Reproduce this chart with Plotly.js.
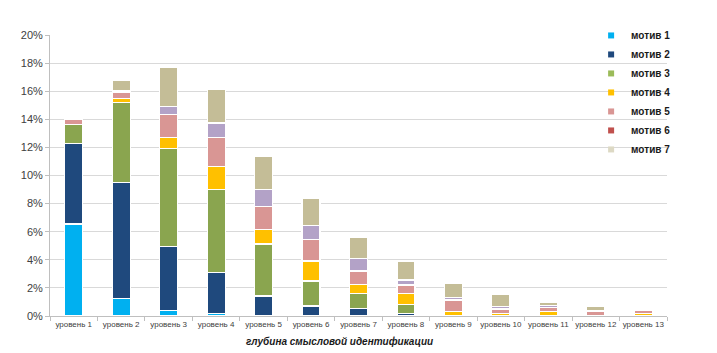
<!DOCTYPE html>
<html>
<head>
<meta charset="utf-8">
<script src="https://cdn.plot.ly/plotly-3.0.1.min.js"></script>
<style>html,body{margin:0;padding:0;background:#fff;}#chart{width:717px;height:353px;}</style>
</head>
<body>
<div id="chart"></div>
<script>
const categories = ["уровень 1","уровень 2","уровень 3","уровень 4","уровень 5","уровень 6","уровень 7","уровень 8","уровень 9","уровень 10","уровень 11","уровень 12","уровень 13"];
const seriesNames = ["мотив 1","мотив 2","мотив 3","мотив 4","мотив 5","мотив 6","мотив 7"];
// values in percent
const motiv1 = [6.55, 1.26, 0.38, 0.20, 0, 0, 0, 0, 0, 0, 0, 0, 0];
const motiv2 = [5.70, 8.24, 4.55, 2.90, 1.42, 0.71, 0.55, 0.19, 0, 0, 0, 0, 0];
const motiv3 = [1.37, 5.71, 6.99, 5.90, 3.70, 1.78, 1.06, 0.64, 0, 0, 0, 0, 0];
const motiv4 = [0, 0.28, 0.78, 1.66, 1.04, 1.42, 0.64, 0.78, 0.31, 0.19, 0.31, 0.05, 0.15];
const motiv5 = [0.38, 0.45, 1.63, 2.04, 1.66, 1.54, 0.95, 0.59, 0.83, 0.31, 0.28, 0.31, 0.23];
const motiv6 = [0, 0.10, 0.60, 1.04, 1.18, 1.02, 0.90, 0.36, 0.19, 0.16, 0.17, 0, 0];
const motiv7 = [0, 0.73, 2.79, 2.42, 2.35, 1.92, 1.50, 1.30, 0.99, 0.88, 0.19, 0.35, 0];
const yTickVals = [0,2,4,6,8,10,12,14,16,18,20];
const yTickText = ["0%","2%","4%","6%","8%","10%","12%","14%","16%","18%","20%"];

const seriesValues = [motiv1, motiv2, motiv3, motiv4, motiv5, motiv6, motiv7];
const barColors = ["#00b0f0","#1f497d","#8aa54f","#ffc000","#d99694","#b3a2c7","#c4bd97"];
const legendColors = ["#00b0f0","#1f497d","#9bbb59","#ffc000","#d99694","#c0504d","#ddd9c4"];

const traces = [];
seriesValues.forEach((vals, i) => {
  traces.push({
    type: "bar",
    x: categories,
    y: vals,
    name: seriesNames[i],
    showlegend: false,
    marker: {color: barColors[i], line: {color: "#ffffff", width: 1.2}},
    hoverinfo: "x+y+name"
  });
});
seriesNames.forEach((n, i) => {
  traces.push({
    type: "scatter",
    mode: "markers",
    x: [null],
    y: [null],
    name: n,
    legendgroup: "g" + i,
    showlegend: true,
    marker: {symbol: "square", size: 6, color: legendColors[i]}
  });
});

const layout = {
  width: 717,
  height: 353,
  margin: {l: 50, r: 50, t: 35, b: 37},
  paper_bgcolor: "#ffffff",
  plot_bgcolor: "#ffffff",
  barmode: "stack",
  bargap: 0.62,
  font: {family: "Liberation Sans, Arial, sans-serif", color: "#404040"},
  xaxis: {
    type: "category",
    tickson: "boundaries",
    ticks: "outside",
    ticklen: 4,
    tickcolor: "#bfbfbf",
    tickangle: 0,
    showline: true,
    linecolor: "#bfbfbf",
    showgrid: false,
    tickfont: {size: 8, color: "#404040", family: "Liberation Sans, Arial, sans-serif"},
    fixedrange: true
  },
  yaxis: {
    range: [0, 20],
    tickvals: yTickVals,
    ticktext: yTickText,
    ticks: "outside",
    ticklen: 4,
    tickcolor: "#bfbfbf",
    showline: true,
    linecolor: "#bfbfbf",
    showgrid: true,
    gridcolor: "#d9d9d9",
    zeroline: false,
    tickfont: {size: 11, color: "#404040"},
    fixedrange: true
  },
  legend: {
    x: 0.877,
    y: 1.05,
    xanchor: "left",
    yanchor: "top",
    bgcolor: "rgba(255,255,255,0)",
    traceorder: "normal",
    tracegroupgap: 2,
    itemwidth: 30,
    font: {size: 10, color: "#1a1a1a", family: "Liberation Sans, Arial, sans-serif", weight: "bold"}
  },
  annotations: [{
    xref: "paper", yref: "paper",
    x: 0.47, y: -0.092,
    xanchor: "center", yanchor: "middle",
    showarrow: false,
    text: "<b><i>глубина смысловой идентификации</i></b>",
    font: {size: 10, color: "#1a1a1a"}
  }]
};

Plotly.newPlot("chart", traces, layout, {displayModeBar: false, staticPlot: true});
</script>
</body>
</html>
